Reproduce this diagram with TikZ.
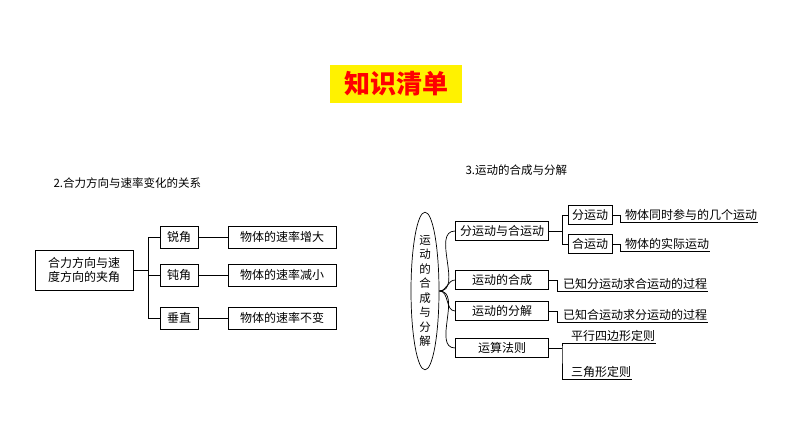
\documentclass[tikz,border=0pt]{standalone}
\usepackage{fontspec}
\newfontfamily\cjk{Noto Sans CJK SC}
\usetikzlibrary{shapes.geometric,positioning}
\tikzset{
    box/.style={draw=black, line width=0.7pt, inner sep=2pt, font=\cjk\fontsize{12}{14}\selectfont},
    ulab/.style={font=\cjk\fontsize{12}{14}\selectfont, inner sep=1pt, anchor=south west},
    head/.style={font=\cjk\fontsize{11.5}{14}\selectfont, anchor=west},
    con/.style={line width=0.7pt}
}
\begin{document}
\begin{tikzpicture}[x=1pt, y=-1pt]
    \useasboundingbox (0,0) rectangle (794,447);
    % title
    \node[fill=yellow, text=red, font=\cjk\bfseries\fontsize{26}{30}\selectfont,
          minimum width=132pt, minimum height=38pt] (title) at (396,84) {知识清单};

    % left part
    \node[head] (lhead) at (50,183) {2.合力方向与速率变化的关系};
    \node[box, align=left, minimum width=98pt, minimum height=40pt] (angle) at (84,270) {合力方向与速\\度方向的夹角};
    \node[box, minimum width=38pt, minimum height=22pt] (acute) at (179,237) {锐角};
    \node[box, minimum width=38pt, minimum height=22pt] (obtuse) at (179,275) {钝角};
    \node[box, minimum width=38pt, minimum height=22pt] (right) at (179,318) {垂直};
    \node[box, minimum width=108pt, minimum height=22pt] (inc) at (282,237) {物体的速率增大};
    \node[box, minimum width=108pt, minimum height=22pt] (dec) at (282,275) {物体的速率减小};
    \node[box, minimum width=108pt, minimum height=22pt] (same) at (282,318) {物体的速率不变};
    \coordinate (lfork) at (148,270);
    \draw[con] (angle.east) -- (lfork);
    \foreach \a/\b in {acute/inc, obtuse/dec, right/same} {
        \draw[con] (lfork) |- (\a.west);
        \draw[con] (\a.east) -- (\b.west);
    }

    % right part
    \node[head] (rhead) at (462,170) {3.运动的合成与分解};
    \node[draw, ellipse, line width=0.7pt, minimum width=28pt, minimum height=134pt, inner sep=0pt,
          align=center, font=\cjk\fontsize{11.5}{14.5}\selectfont] (root) at (425,291)
          {运\\动\\的\\合\\成\\与\\分\\解};
    \node[box, minimum width=93pt, minimum height=19pt] (sub) at (502,231) {分运动与合运动};
    \node[box, minimum width=93pt, minimum height=19pt] (comp) at (502,280) {运动的合成};
    \node[box, minimum width=93pt, minimum height=19pt] (deco) at (502,311) {运动的分解};
    \node[box, minimum width=93pt, minimum height=19pt] (rule) at (502,348) {运算法则};
    \node[box, minimum width=44pt, minimum height=19pt] (part) at (590,215) {分运动};
    \node[box, minimum width=44pt, minimum height=19pt] (whole) at (590,244) {合运动};
    \foreach \n in {sub, comp, deco, rule}
        \draw[con] (root.east) to[out=0, in=180] (\n.west);

    \coordinate (sfork) at (562,231);
    \draw[con] (sub.east) -- (sfork);
    \draw[con] (sfork) |- (part.west);
    \draw[con] (sfork) |- (whole.west);

    \node[ulab] (t1) at (624,222) {物体同时参与的几个运动};
    \node[ulab] (t2) at (624,251) {物体的实际运动};
    \node[ulab] (t3) at (562,291) {已知分运动求合运动的过程};
    \node[ulab] (t4) at (562,322) {已知合运动求分运动的过程};
    \node[ulab] (t5) at (570,343) {平行四边形定则};
    \node[ulab] (t6) at (570,379) {三角形定则};
    \foreach \n in {t1,t2,t3,t4,t5,t6}
        \draw[con] (\n.south west) -- (\n.south east);
    \draw[con] (part.east) -- ++(8,0) |- (t1.south west);
    \draw[con] (whole.east) -- ++(8,0) |- (t2.south west);
    \draw[con] (comp.east) -- ++(8,0) |- (t3.south west);
    \draw[con] (deco.east) -- ++(8,0) |- (t4.south west);
    \coordinate (rfork) at (562,348);
    \draw[con] (rule.east) -- (rfork);
    \draw[con] (t5.south west) -| (rfork) |- (t6.south west);
\end{tikzpicture}
\end{document}
